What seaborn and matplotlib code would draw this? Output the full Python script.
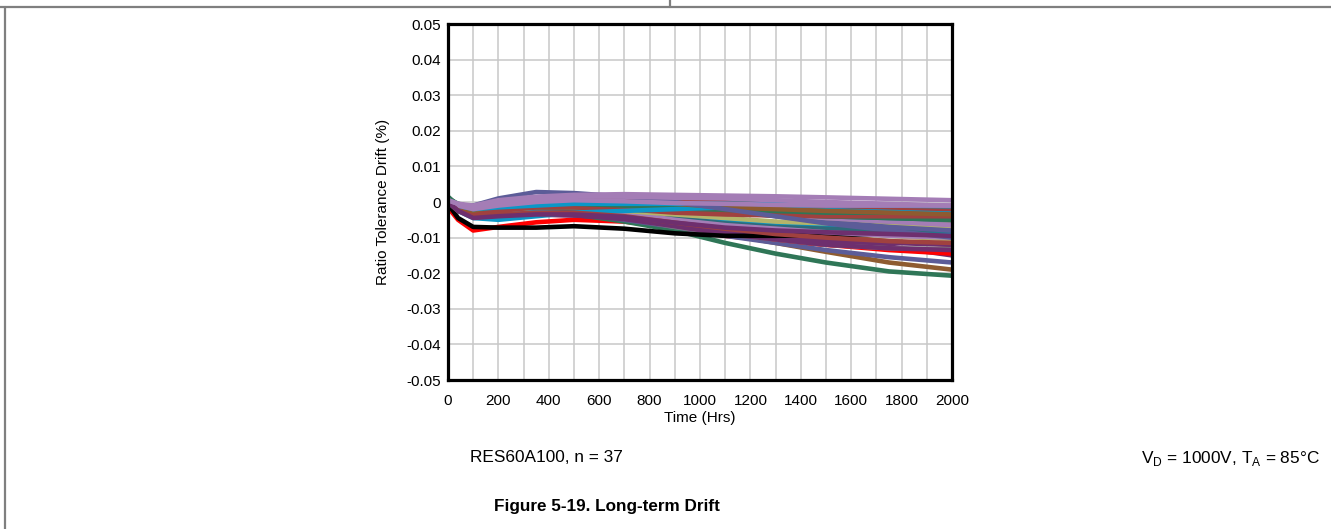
import matplotlib
matplotlib.use("Agg")
import matplotlib.pyplot as plt
import seaborn as sns
import pandas as pd
from matplotlib.lines import Line2D

# Sample times (hours) at which each unit's ratio drift is given
hours = [0, 40, 100, 200, 350, 500, 700, 900, 1100, 1300, 1500, 1750, 2000]

LILAC, SLATE, BROWN, KHAKI = "#A47DB6", "#5C5C98", "#8E5B30", "#B4B46A"
GREEN, CYAN, RED, BLACK = "#2F7657", "#0B97C7", "#FF0000", "#000000"
BRICK, GRAY, TEAL, PLUM = "#A0413F", "#808080", "#2E6B7A", "#6E2F6E"

# Line colour of each of the 37 units (drawing order: first is at the back)
unit_colors = [
    RED,
    GREEN, BROWN, SLATE, PLUM, RED, GRAY, PLUM, BROWN, PLUM, KHAKI,
    BLACK,
    GRAY, CYAN, TEAL, LILAC, KHAKI, SLATE, GRAY, LILAC, TEAL, GREEN,
    BRICK, KHAKI, BRICK, GREEN, TEAL, CYAN, BROWN, BRICK, CYAN, SLATE,
    LILAC, BRICK, PLUM, LILAC, LILAC,
]

# Ratio tolerance drift (%) of each unit at the sample times above
drift = [
    [-0.0015, -0.0050, -0.0080, -0.0070, -0.0057, -0.0050, -0.0055, -0.0072, -0.0095, -0.0110, -0.0120, -0.0130, -0.0140],
    [0.0015, -0.0010, -0.0030, -0.0030, -0.0030, -0.0035, -0.0055, -0.0080, -0.0115, -0.0145, -0.0170, -0.0195, -0.0207],
    [0.0000, -0.0020, -0.0030, -0.0025, -0.0020, -0.0025, -0.0040, -0.0065, -0.0090, -0.0115, -0.0140, -0.0170, -0.0190],
    [0.0005, -0.0015, -0.0035, -0.0030, -0.0025, -0.0030, -0.0050, -0.0070, -0.0095, -0.0115, -0.0135, -0.0155, -0.0170],
    [0.0000, -0.0020, -0.0040, -0.0040, -0.0035, -0.0038, -0.0045, -0.0065, -0.0080, -0.0095, -0.0110, -0.0125, -0.0150],
    [0.0000, -0.0020, -0.0035, -0.0030, -0.0020, -0.0025, -0.0045, -0.0065, -0.0085, -0.0105, -0.0120, -0.0135, -0.0145],
    [0.0000, -0.0020, -0.0035, -0.0035, -0.0030, -0.0035, -0.0045, -0.0070, -0.0090, -0.0105, -0.0120, -0.0130, -0.0132],
    [0.0000, -0.0020, -0.0040, -0.0038, -0.0035, -0.0037, -0.0048, -0.0068, -0.0090, -0.0105, -0.0120, -0.0130, -0.0135],
    [0.0000, -0.0020, -0.0035, -0.0030, -0.0020, -0.0020, -0.0035, -0.0050, -0.0065, -0.0080, -0.0095, -0.0110, -0.0120],
    [0.0000, -0.0015, -0.0030, -0.0025, -0.0020, -0.0025, -0.0040, -0.0060, -0.0080, -0.0095, -0.0110, -0.0115, -0.0120],
    [0.0000, -0.0015, -0.0030, -0.0025, -0.0020, -0.0025, -0.0035, -0.0050, -0.0065, -0.0075, -0.0085, -0.0095, -0.0105],
    [-0.0005, -0.0045, -0.0070, -0.0072, -0.0072, -0.0068, -0.0075, -0.0088, -0.0095, -0.0095, -0.0093, -0.0090, -0.0085],
    [0.0000, -0.0015, -0.0030, -0.0020, -0.0015, -0.0015, -0.0025, -0.0040, -0.0055, -0.0065, -0.0075, -0.0085, -0.0090],
    [0.0000, -0.0020, -0.0035, -0.0030, -0.0025, -0.0025, -0.0030, -0.0040, -0.0050, -0.0060, -0.0070, -0.0080, -0.0090],
    [0.0000, -0.0015, -0.0025, -0.0020, -0.0015, -0.0020, -0.0030, -0.0045, -0.0060, -0.0070, -0.0075, -0.0080, -0.0080],
    [0.0010, -0.0010, -0.0020, -0.0015, -0.0010, -0.0015, -0.0030, -0.0050, -0.0065, -0.0075, -0.0085, -0.0095, -0.0100],
    [0.0000, -0.0015, -0.0030, -0.0025, -0.0015, -0.0015, -0.0025, -0.0035, -0.0045, -0.0055, -0.0060, -0.0065, -0.0070],
    [0.0005, -0.0010, -0.0020, -0.0010, 0.0000, 0.0005, 0.0000, -0.0010, -0.0025, -0.0040, -0.0055, -0.0070, -0.0080],
    [0.0005, -0.0010, -0.0020, -0.0010, 0.0000, 0.0000, -0.0005, -0.0015, -0.0025, -0.0035, -0.0045, -0.0055, -0.0060],
    [0.0000, -0.0015, -0.0025, -0.0015, -0.0005, 0.0000, -0.0005, -0.0015, -0.0025, -0.0035, -0.0045, -0.0055, -0.0065],
    [0.0005, -0.0010, -0.0020, -0.0015, -0.0010, -0.0010, -0.0015, -0.0020, -0.0030, -0.0035, -0.0040, -0.0045, -0.0050],
    [0.0010, -0.0010, -0.0025, -0.0020, -0.0015, -0.0015, -0.0020, -0.0025, -0.0030, -0.0035, -0.0040, -0.0045, -0.0050],
    [0.0000, -0.0015, -0.0030, -0.0025, -0.0015, -0.0015, -0.0020, -0.0030, -0.0035, -0.0038, -0.0040, -0.0040, -0.0040],
    [0.0005, -0.0010, -0.0020, -0.0010, 0.0000, 0.0005, 0.0000, -0.0005, -0.0010, -0.0015, -0.0020, -0.0025, -0.0030],
    [0.0000, -0.0015, -0.0025, -0.0020, -0.0010, -0.0005, -0.0010, -0.0015, -0.0020, -0.0025, -0.0030, -0.0030, -0.0035],
    [0.0010, -0.0005, -0.0015, -0.0010, -0.0005, -0.0005, -0.0010, -0.0015, -0.0020, -0.0025, -0.0030, -0.0030, -0.0030],
    [0.0000, -0.0010, -0.0020, -0.0010, 0.0000, 0.0005, 0.0000, -0.0005, -0.0010, -0.0015, -0.0020, -0.0025, -0.0030],
    [0.0000, -0.0025, -0.0045, -0.0050, -0.0040, -0.0030, -0.0025, -0.0020, -0.0015, -0.0015, -0.0015, -0.0020, -0.0025],
    [0.0000, -0.0015, -0.0025, -0.0010, 0.0005, 0.0010, 0.0005, -0.0005, -0.0015, -0.0020, -0.0025, -0.0030, -0.0035],
    [0.0000, -0.0010, -0.0020, -0.0005, 0.0005, 0.0010, 0.0008, 0.0005, 0.0000, -0.0005, -0.0010, -0.0015, -0.0020],
    [0.0005, -0.0010, -0.0020, -0.0015, -0.0010, -0.0005, -0.0005, -0.0005, -0.0005, -0.0005, -0.0008, -0.0010, -0.0012],
    [0.0000, -0.0010, -0.0010, 0.0010, 0.0028, 0.0025, 0.0015, 0.0000, -0.0020, -0.0040, -0.0060, -0.0080, -0.0100],
    [0.0005, -0.0010, -0.0020, -0.0010, 0.0000, 0.0005, 0.0002, -0.0003, -0.0005, -0.0008, -0.0010, -0.0010, -0.0010],
    [0.0000, -0.0025, -0.0040, -0.0035, -0.0030, -0.0030, -0.0040, -0.0058, -0.0075, -0.0090, -0.0100, -0.0110, -0.0115],
    [0.0000, -0.0025, -0.0045, -0.0040, -0.0035, -0.0035, -0.0042, -0.0058, -0.0072, -0.0080, -0.0085, -0.0090, -0.0095],
    [0.0005, -0.0005, -0.0015, -0.0005, 0.0010, 0.0015, 0.0015, 0.0012, 0.0010, 0.0005, 0.0000, -0.0005, -0.0010],
    [0.0005, -0.0005, -0.0010, 0.0005, 0.0015, 0.0020, 0.0022, 0.0020, 0.0018, 0.0016, 0.0013, 0.0009, 0.0005],
]

rows = []
for unit, values in enumerate(drift):
    for h, v in zip(hours, values):
        rows.append({"unit": unit, "hours": h, "drift": v})
df = pd.DataFrame(rows)

sns.set_theme(style="white")
plt.rcParams["font.family"] = ["Liberation Sans", "DejaVu Sans"]
plt.rcParams["text.color"] = "#000000"
plt.rcParams["axes.labelcolor"] = "#000000"

W, H = 1331, 529
fig = plt.figure(figsize=(W / 100, H / 100), dpi=100)

# Page frame lines around the figure block
frame = "#7F7F7F"
fig.add_artist(Line2D([0, 1], [1 - 6.5 / H, 1 - 6.5 / H], color=frame, lw=1.6))
fig.add_artist(Line2D([4.5 / W, 4.5 / W], [0, 1 - 6.5 / H], color=frame, lw=1.6))
fig.add_artist(Line2D([670 / W, 670 / W], [1 - 6.5 / H, 1], color=frame, lw=1.6))

left, right, top, bottom = 448, 952, 24, 380
ax = fig.add_axes([left / W, 1 - bottom / H, (right - left) / W, (bottom - top) / H])

sns.lineplot(
    data=df, x="hours", y="drift", hue="unit",
    palette=dict(enumerate(unit_colors)), estimator=None,
    linewidth=3.3, legend=False, ax=ax,
)

ax.set_xlim(0, 2000)
ax.set_ylim(-0.05, 0.05)
ax.set_xticks(range(0, 2001, 200))
ax.set_xticks(range(0, 2001, 100), minor=True)
ax.set_yticks([i / 100 for i in range(-5, 6)])
ax.set_yticklabels(["-0.05", "-0.04", "-0.03", "-0.02", "-0.01", "0",
                    "0.01", "0.02", "0.03", "0.04", "0.05"])
ax.grid(True, which="both", axis="x", color="#C8C8C8", lw=1.1)
ax.grid(True, which="major", axis="y", color="#C8C8C8", lw=1.1)
ax.set_axisbelow(True)
ax.tick_params(which="both", length=0, labelsize=11, colors="#000000")
ax.tick_params(axis="x", pad=10)
ax.tick_params(axis="y", pad=5)
for s in ax.spines.values():
    s.set_color("#000000")
    s.set_linewidth(2.3)
ax.set_xlabel("Time (Hrs)", fontsize=11, labelpad=2)
ax.set_ylabel("Ratio Tolerance Drift (%)", fontsize=11, labelpad=12)

fig.text(470 / W, 1 - 458 / H, "RES60A100, n = 37", fontsize=12.4,
         ha="left", va="center")
fig.text(1320 / W, 1 - 458 / H,
         r"V$_\mathregular{D}$ = 1000V, T$_\mathregular{A}$ = 85°C",
         fontsize=12.4, ha="right", va="center")
fig.text(607 / W, 1 - 507 / H, "Figure 5-19. Long-term Drift", fontsize=12.3,
         fontweight="bold", ha="center", va="center")

fig.savefig("out.png", dpi=100, facecolor="white")
